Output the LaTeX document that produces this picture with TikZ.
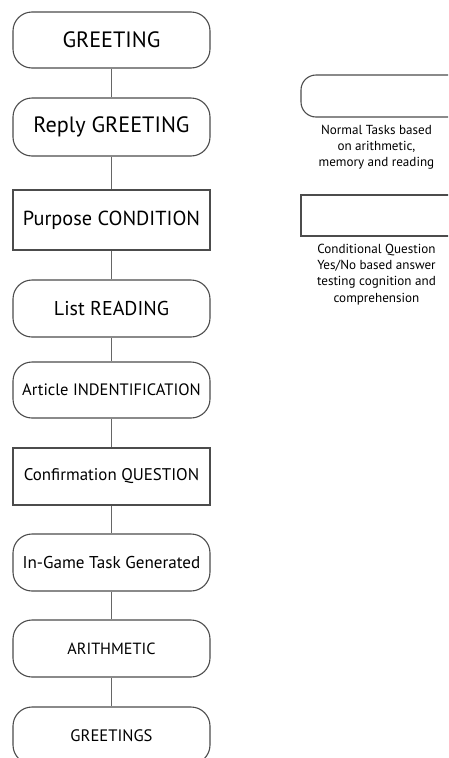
\documentclass[tikz,border=0pt]{standalone}
\usepackage{fontspec}
\setmainfont{PT Sans}
\usetikzlibrary{positioning}

\tikzset{
  flow/.style={draw=black!70, line width=1.1pt, minimum width=197pt, inner sep=0pt},
  rbox/.style={flow, rounded corners=19pt},
  sbox/.style={flow},
  link/.style={draw=black!60, line width=1pt},
  note/.style={align=center, font=\fontsize{13.1}{16.2}\selectfont}
}

\begin{document}
\begin{tikzpicture}[x=1pt,y=-1pt]

\useasboundingbox (0,0) rectangle (448,758);
\clip (0,0) rectangle (448,758);

% main flow
\node [rbox, minimum height=56pt, font=\fontsize{22.2}{24}\selectfont] (greet) at (111.5,40) {GREETING};
\node [rbox, minimum height=58pt, font=\fontsize{22.2}{24}\selectfont] (reply) at (111.5,127) {Reply GREETING};
\node [sbox, minimum height=60pt, font=\fontsize{20.3}{22}\selectfont] (purpose) at (111.5,220) {Purpose CONDITION};
\node [rbox, minimum height=57pt, font=\fontsize{20}{24}\selectfont] (list) at (111.5,308.5) {List READING};
\node [rbox, minimum height=56pt, font=\fontsize{16.5}{20}\selectfont] (article) at (111.5,390) {Article INDENTIFICATION};
\node [sbox, minimum height=57pt, font=\fontsize{16.9}{20}\selectfont] (confirm) at (111.5,476.5) {Confirmation QUESTION};
\node [rbox, minimum height=57pt, font=\fontsize{17.1}{20}\selectfont] (ingame) at (111.5,562.5) {In-Game Task Generated};
\node [rbox, minimum height=57pt, font=\fontsize{16.2}{20}\selectfont] (arith) at (111.5,648.5) {ARITHMETIC};
\node [rbox, minimum height=57pt, font=\fontsize{16.6}{20}\selectfont] (greets) at (111.5,735.5) {GREETINGS};

\draw [link] (greet) -- (reply);
\draw [link] (reply) -- (purpose);
\draw [link] (purpose) -- (list);
\draw [link] (list) -- (article);
\draw [link] (article) -- (confirm);
\draw [link] (confirm) -- (ingame);
\draw [link] (ingame) -- (arith);
\draw [link] (arith) -- (greets);

% legend
\node [rbox, minimum width=170pt, minimum height=42pt, rounded corners=15pt] (keyround) at (386,96) {};
\node [note, below=4pt of keyround.south west, anchor=north, xshift=76pt] (keyroundtxt) {Normal Tasks based\\on arithmetic,\\memory and reading};

\node [sbox, minimum width=170pt, minimum height=41pt] (keysquare) at (386,215.5) {};
\node [note, below=4pt of keysquare.south west, anchor=north, xshift=76pt] (keysquaretxt) {Conditional Question\\Yes/No based answer\\testing cognition and\\comprehension};

\end{tikzpicture}
\end{document}
